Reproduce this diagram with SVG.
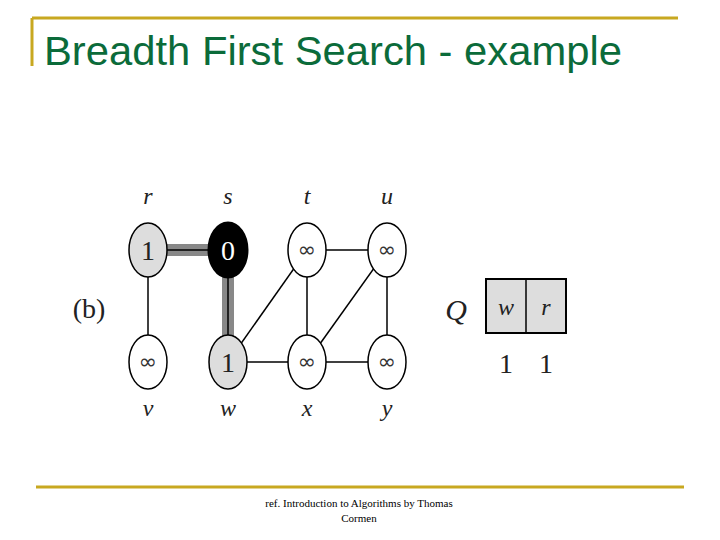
<svg xmlns="http://www.w3.org/2000/svg" width="720" height="540" viewBox="0 0 720 540">
<style>
.n{stroke:#000;stroke-width:1.5}
.e{stroke:#000;stroke-width:1.5}
.t{font-family:"Liberation Serif",serif;font-style:italic;font-size:24px;text-anchor:middle;fill:#222}
.v{font-family:"Liberation Serif",serif;font-size:28px;text-anchor:middle;fill:#222}
.inf{font-family:"DejaVu Sans",sans-serif;font-size:22px;text-anchor:middle;fill:#333}
</style>
<rect width="720" height="540" fill="#fff"/>
<g id="header">
<line x1="32" y1="18" x2="678" y2="18" stroke="#c8a820" stroke-width="3"/>
<line x1="32" y1="18" x2="32" y2="66" stroke="#c8a820" stroke-width="3"/>
<text x="44" y="65" font-family="Liberation Sans,sans-serif" font-size="41" fill="#0b6b3a" textLength="578" lengthAdjust="spacingAndGlyphs">Breadth First Search - example</text>
</g>
<g id="connectors">
<line x1="148" y1="250" x2="228" y2="250" stroke="#888" stroke-width="12"/>
<line x1="148" y1="250" x2="228" y2="250" class="e"/>
<line x1="228" y1="250" x2="228" y2="362" stroke="#888" stroke-width="12"/>
<line x1="228" y1="250" x2="228" y2="362" class="e"/>
<line x1="148" y1="250" x2="148" y2="362" class="e"/>
<line x1="307" y1="250" x2="387" y2="250" class="e"/>
<line x1="307" y1="250" x2="307" y2="362" class="e"/>
<line x1="387" y1="250" x2="387" y2="362" class="e"/>
<line x1="307" y1="250" x2="228" y2="362" class="e"/>
<line x1="387" y1="250" x2="307" y2="362" class="e"/>
<line x1="228" y1="362" x2="387" y2="362" class="e"/>
</g>
<g id="r"><ellipse cx="148" cy="250" rx="19" ry="27" fill="#ddd" class="n"/><text x="148" y="260" class="v">1</text><text x="148" y="204" class="t">r</text></g>
<g id="s"><ellipse cx="228" cy="250" rx="19" ry="27" fill="#000" stroke="#000" stroke-width="3"/><text x="228" y="260" class="v" style="fill:#fff">0</text><text x="228" y="204" class="t">s</text></g>
<g id="t"><ellipse cx="307" cy="250" rx="19" ry="27" fill="#fff" class="n"/><text x="307" y="257" class="inf">∞</text><text x="307" y="204" class="t">t</text></g>
<g id="u"><ellipse cx="387" cy="250" rx="19" ry="27" fill="#fff" class="n"/><text x="387" y="257" class="inf">∞</text><text x="387" y="204" class="t">u</text></g>
<g id="v"><ellipse cx="148" cy="362" rx="19" ry="27" fill="#fff" class="n"/><text x="148" y="369" class="inf">∞</text><text x="148" y="416" class="t">v</text></g>
<g id="w"><ellipse cx="228" cy="362" rx="19" ry="27" fill="#ddd" class="n"/><text x="228" y="372" class="v">1</text><text x="228" y="416" class="t">w</text></g>
<g id="x"><ellipse cx="307" cy="362" rx="19" ry="27" fill="#fff" class="n"/><text x="307" y="369" class="inf">∞</text><text x="307" y="416" class="t">x</text></g>
<g id="y"><ellipse cx="387" cy="362" rx="19" ry="27" fill="#fff" class="n"/><text x="387" y="369" class="inf">∞</text><text x="387" y="416" class="t">y</text></g>
<text x="89" y="318" class="v">(b)</text>
<g id="queue">
<text x="456" y="320" class="t" style="font-size:30px">Q</text>
<rect x="486" y="279" width="80" height="54" fill="#ddd" stroke="#000" stroke-width="2"/>
<line x1="526" y1="279" x2="526" y2="333" stroke="#000" stroke-width="1.5"/>
<text x="506" y="315" class="t">w</text>
<text x="546" y="315" class="t">r</text>
<text x="506" y="373" class="v">1</text>
<text x="546" y="373" class="v">1</text>
</g>
<g id="footer">
<line x1="36" y1="487" x2="684" y2="487" stroke="#c8a820" stroke-width="3"/>
<text x="359" y="507" font-family="Liberation Serif,serif" font-size="11" text-anchor="middle">ref. Introduction to Algorithms by Thomas</text>
<text x="359" y="522" font-family="Liberation Serif,serif" font-size="11" text-anchor="middle">Cormen</text>
</g>
</svg>
